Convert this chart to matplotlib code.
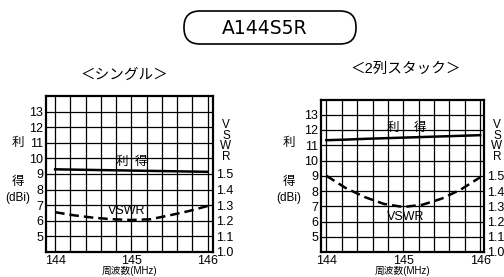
import matplotlib
matplotlib.use("Agg")
import matplotlib.pyplot as plt
from matplotlib.ticker import MultipleLocator, FixedLocator
from matplotlib.patches import FancyBboxPatch

plt.rcParams['font.family'] = ['Liberation Sans', 'Noto Sans CJK JP', 'DejaVu Sans']

title = "A144S5R"
subtitles = ["＜シングル＞", "＜2列スタック＞"]
freq = [144.0, 144.25, 144.5, 144.75, 145.0, 145.25, 145.5, 145.75, 146.0]
gain_single = [9.3, 9.28, 9.26, 9.24, 9.22, 9.2, 9.18, 9.16, 9.14]
vswr_single = [1.255, 1.235, 1.22, 1.21, 1.205, 1.21, 1.235, 1.262, 1.295]
gain_stack = [11.33, 11.37, 11.42, 11.46, 11.5, 11.54, 11.58, 11.62, 11.66]
vswr_stack = [1.50, 1.42, 1.36, 1.315, 1.295, 1.31, 1.35, 1.41, 1.49]
gain_ticks = [5, 6, 7, 8, 9, 10, 11, 12, 13]
vswr_ticks = [1.0, 1.1, 1.2, 1.3, 1.4, 1.5]
freq_ticks = [144, 145, 146]

W, H = 504, 277
fig = plt.figure(figsize=(W / 100, H / 100), dpi=100)

# pixel-coordinate overlay for the title box
bg = fig.add_axes([0, 0, 1, 1])
bg.set_xlim(0, W)
bg.set_ylim(H, 0)
bg.axis('off')
box = FancyBboxPatch((184, 11), 356 - 184, 44 - 11,
                     boxstyle="round,pad=0,rounding_size=16",
                     facecolor='white', edgecolor='black', linewidth=1.2)
bg.add_patch(box)
bg.text(265, 29, title, ha='center', va='center', fontsize=13.5, family='DejaVu Sans')


def fx(x):
    return x / W


def fy(y):
    return 1 - y / H


def make_panel(rect, xlim, gain, vswr, sub, sub_xy, gain_lbl, vswr_lbl, ylbl_x, vswr_axis_x):
    ax = fig.add_axes(rect)
    ax.set_xlim(*xlim)
    ax.set_ylim(4, 14)
    ax.xaxis.set_major_locator(FixedLocator(freq_ticks))
    ax.xaxis.set_minor_locator(MultipleLocator(0.2))
    ax.yaxis.set_major_locator(FixedLocator(gain_ticks))
    ax.grid(which='both', color='black', linewidth=0.9)
    ax.set_axisbelow(True)
    ax.tick_params(which='both', length=0, labelsize=9, pad=2)
    for s in ax.spines.values():
        s.set_linewidth(1.6)
    ax.plot(freq, gain, color='black', linewidth=1.8)
    ax2 = ax.twinx()
    ax2.set_ylim(1.0, 2.0)
    ax2.yaxis.set_major_locator(FixedLocator(vswr_ticks))
    ax2.set_yticklabels([f"{v:.1f}" for v in vswr_ticks])
    ax2.tick_params(length=0, labelsize=9, pad=2)
    ax2.plot(freq, vswr, color='black', linewidth=1.8, linestyle=(0, (3.8, 2)))
    for s in ax2.spines.values():
        s.set_visible(False)
    ax.text(gain_lbl[0], gain_lbl[2], "利", ha='center', va='center', fontsize=9)
    ax.text(gain_lbl[1], gain_lbl[2], "得", ha='center', va='center', fontsize=9)
    ax.text(vswr_lbl[0], vswr_lbl[1], "VSWR", ha='center', va='center', fontsize=9)
    fig.text(fx(ylbl_x), fy(143), "利", ha='center', va='center', fontsize=9)
    fig.text(fx(ylbl_x), fy(182), "得", ha='center', va='center', fontsize=9)
    fig.text(fx(ylbl_x), fy(198.5), "(dBi)", ha='center', va='center', fontsize=8.5)
    fig.text(fx(vswr_axis_x), fy(141), "V\nS\nW\nR", ha='center', va='center',
             fontsize=8.5, linespacing=0.85)
    cx = rect[0] + rect[2] / 2
    fig.text(cx, fy(271), "周波数(MHz)", ha='center', va='center', fontsize=7)
    fig.text(fx(sub_xy[0]), fy(sub_xy[1]), sub, ha='center', va='center', fontsize=10.5)
    return ax


make_panel([fx(46), fy(252), fx(213 - 46), fy(96) - fy(252)], (143.88, 146.07),
           gain_single, vswr_single, subtitles[0], (124, 75),
           (144.87, 145.13, 9.8), (144.94, 6.6), 17.5, 226)
make_panel([fx(321), fy(252), fx(484 - 321), fy(99.5) - fy(252)], (143.93, 146.05),
           gain_stack, vswr_stack, subtitles[1], (406, 69),
           (144.87, 145.22, 12.1), (145.03, 6.3), 289, 497)

fig.savefig("out.png", dpi=100)
